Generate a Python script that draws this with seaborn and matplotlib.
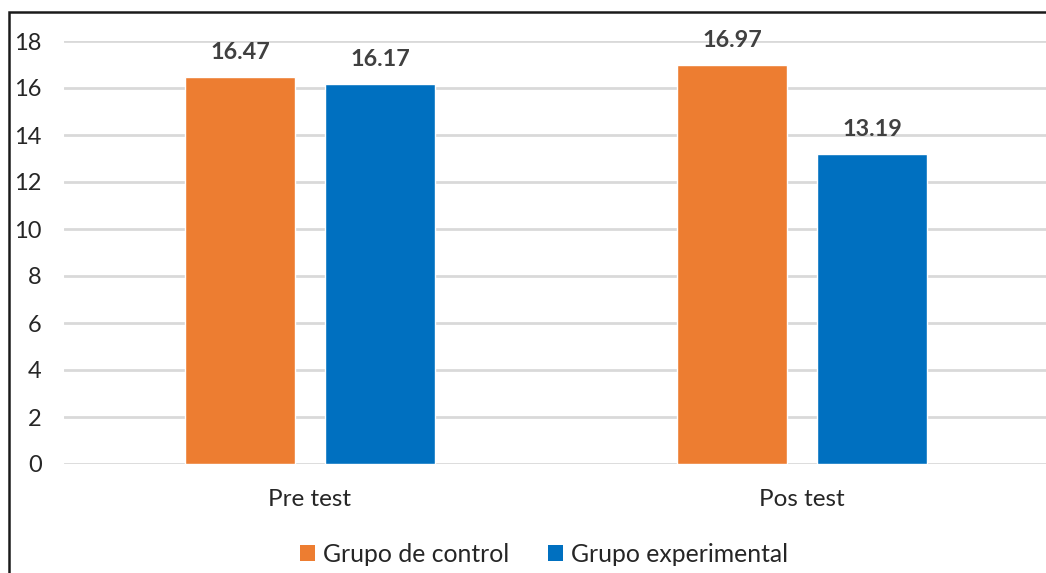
import matplotlib
matplotlib.use("Agg")
import matplotlib.pyplot as plt
from matplotlib.patches import Rectangle, Patch
import seaborn as sns
import pandas as pd

categories = ["Pre test", "Pos test"]
groups = ["Grupo de control", "Grupo experimental"]
control_values = [16.47, 16.97]
experimental_values = [16.17, 13.19]
y_ticks = [0, 2, 4, 6, 8, 10, 12, 14, 16, 18]
colors = ["#ED7D31", "#0070C0"]

df = pd.DataFrame({
    "Momento": categories * 2,
    "Grupo": [groups[0]] * 2 + [groups[1]] * 2,
    "Puntaje": control_values + experimental_values,
})

sns.set_theme(style="white")
plt.rcParams["font.family"] = ["Lato", "DejaVu Sans"]

W, H = 1046, 573
fig = plt.figure(figsize=(W / 100, H / 100), dpi=100)
ax = fig.add_axes([64 / W, (H - 464) / H, 984 / W, (464 - 41) / H])

sns.barplot(data=df, x="Momento", y="Puntaje", hue="Grupo", order=categories,
            hue_order=groups, palette=colors, width=0.569, gap=0.214,
            saturation=1, ax=ax, legend=False)

ax.set_ylim(0, 18)
ax.set_xlim(-0.5, 1.5)
ax.set_yticks(y_ticks)
ax.yaxis.grid(True, color="#D9D9D9", linewidth=2)
ax.set_axisbelow(True)
for s in ax.spines.values():
    s.set_visible(False)
ax.set_xlabel("")
ax.set_ylabel("")
ax.tick_params(axis="y", length=0, pad=16, labelsize=17, labelcolor="#262626")
ax.tick_params(axis="x", length=0, pad=18, labelsize=17.5, labelcolor="#262626")

for cont in ax.containers:
    ax.bar_label(cont, fmt="%.2f", padding=10, fontsize=16.8, fontweight="bold",
                 color="#404040")

handles = [Patch(facecolor=c, edgecolor="none") for c in colors]
fig.legend(handles, groups, loc="center", bbox_to_anchor=(544 / W, (H - 554) / H),
           ncol=2, frameon=False, fontsize=17.8, handlelength=0.6, handleheight=0.6,
           handletextpad=0.3, columnspacing=1.6, labelcolor="#262626")

# outer chart frame
fig.patches.append(Rectangle((9 / W, -0.1), 1.2, (H - 12) / H + 0.1,
                             transform=fig.transFigure, fill=False,
                             edgecolor="#1a1a1a", linewidth=1.8, zorder=10))

fig.savefig("out.png", dpi=100)
